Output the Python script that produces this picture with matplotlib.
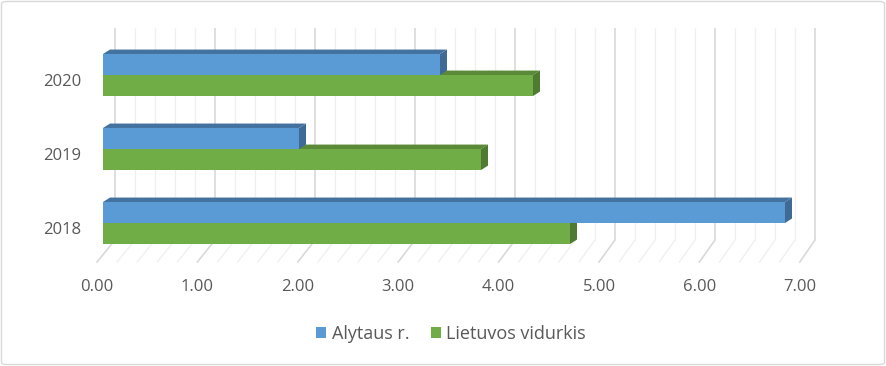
import matplotlib
matplotlib.use("Agg")
import matplotlib.pyplot as plt
from matplotlib.patches import Polygon, Rectangle, FancyBboxPatch
import numpy as np

years = ["2018", "2019", "2020"]
series_names = ["Alytaus r.", "Lietuvos vidurkis"]
alytaus = [6.82, 1.96, 3.37]
lietuva = [4.67, 3.78, 4.30]
tick_values = [0, 1, 2, 3, 4, 5, 6, 7]
tick_labels = ["0.00", "1.00", "2.00", "3.00", "4.00", "5.00", "6.00", "7.00"]

W, H = 886, 366
fig = plt.figure(figsize=(W / 100, H / 100), dpi=100)
plt.rcParams['font.family'] = ['Open Sans', 'DejaVu Sans']

# axes mapping: x data -> px = 103 + 100*x ; y data -> py = 223 - 74*y
xlo, xhi = -0.3, 7.3
ylo, yhi = -0.6, 2.7
left_px = 103 + 100 * xlo
right_px = 103 + 100 * xhi
top_px = 223 - 74 * yhi
bot_px = 223 - 74 * ylo
ax = fig.add_axes([left_px / W, (H - bot_px) / H, (right_px - left_px) / W, (bot_px - top_px) / H])
ax.set_xlim(xlo, xhi)
ax.set_ylim(ylo, yhi)
ax.axis("off")

text_color = "#595959"
back_off = 0.12
floor_back = -0.23
floor_front = -0.527
wall_top = 2.635

def front_x(v):
    return v - 0.06 + 0.004 * v

# back wall and floor gridlines
for v in np.arange(0, 7.0001, 0.2):
    major = abs(v - round(v)) < 1e-6
    col = "#D9D9D9" if major else "#EFEFEF"
    lw = 1.2 if major else 0.9
    ax.plot([v + back_off, v + back_off], [floor_back, wall_top], color=col, lw=lw, zorder=0, solid_capstyle="butt")
    ax.plot([v + back_off, front_x(v)], [floor_back, floor_front], color=col, lw=lw, zorder=0)

h = 0.284
ddx = 0.07
ddy = 0.06

styles = {
    0: dict(front="#5B9BD5", top="#4472A0", side="#3F6A96"),
    1: dict(front="#70AD47", top="#5A8A38", side="#4F7A31"),
}

def draw_bar(v, y0, st, z):
    top = Polygon([(0, y0 + h), (ddx, y0 + h + ddy), (v + ddx, y0 + h + ddy), (v, y0 + h)],
                  closed=True, facecolor=st["top"], edgecolor="none", zorder=z)
    side = Polygon([(v, y0), (v + ddx, y0 + ddy), (v + ddx, y0 + h + ddy), (v, y0 + h)],
                   closed=True, facecolor=st["side"], edgecolor="none", zorder=z)
    ax.add_patch(top)
    ax.add_patch(side)
    ax.barh(y0 + h / 2, v, height=h, left=0, color=st["front"], zorder=z + 0.5, linewidth=0)

for i, yr in enumerate(years):
    draw_bar(lietuva[i], i - h, styles[1], 2)
    draw_bar(alytaus[i], i, styles[0], 3)
    ax.text(-0.22, i - 0.1, yr, ha="right", va="center", fontsize=12, color=text_color)

for v, lab in zip(tick_values, tick_labels):
    ax.text(front_x(v), -0.865, lab, ha="center", va="center", fontsize=12, color=text_color, clip_on=False)

handles = [Rectangle((0, 0), 1, 1, facecolor=styles[0]["front"]),
           Rectangle((0, 0), 1, 1, facecolor=styles[1]["front"])]
fig.legend(handles, series_names, loc="center", bbox_to_anchor=(451 / W, 1 - 334 / H), ncol=2,
           frameon=False, fontsize=13, labelcolor=text_color, handlelength=0.55, handleheight=0.55,
           handletextpad=0.3, columnspacing=1.2)

border = FancyBboxPatch((1.5 / W, 1.5 / H), (W - 3) / W, (H - 3) / H, boxstyle="round,pad=0,rounding_size=0.006",
                        transform=fig.transFigure, facecolor="none", edgecolor="#D9D9D9", lw=1)
fig.patches.append(border)

fig.savefig("out.png", dpi=100, facecolor="white")
